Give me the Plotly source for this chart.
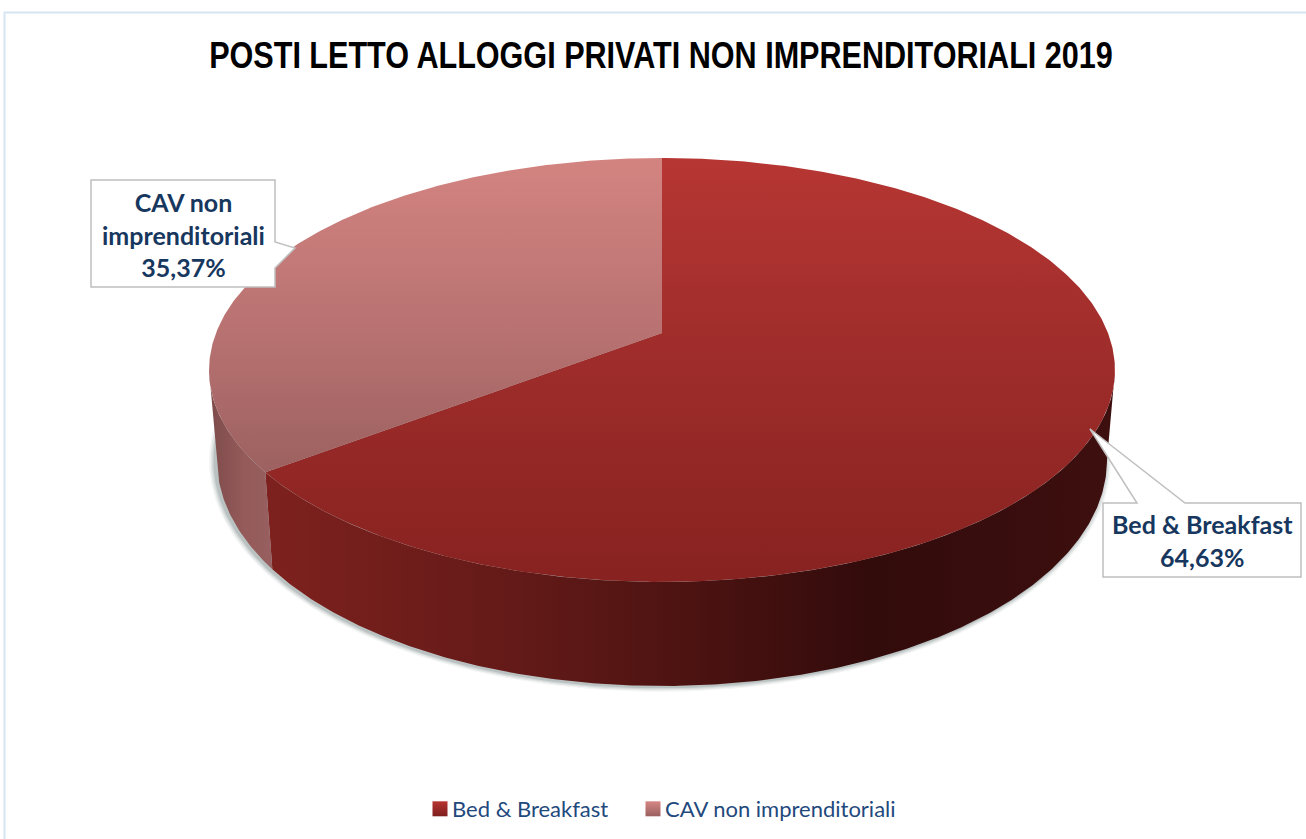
import numpy as np
import plotly.graph_objects as go

CATEGORIES = ["Bed & Breakfast", "CAV non imprenditoriali"]
VALUES = [64.63, 35.37]
LABELS = ["Bed & Breakfast<br>64,63%", "CAV non<br>imprenditoriali<br>35,37%"]
TITLE = "POSTI LETTO ALLOGGI PRIVATI NON IMPRENDITORIALI 2019"

W, H = 1306, 839
CX, APEX_Y = 662.0, 333.0
K = 0.1745
A, B = 446.0, 205.5
TOP_CY, TOP_RX, TOP_RY = 370.0, 453.0, 212.0
BOT_CY, BOT_RX, BOT_RY = 460.0, 445.0, 226.0
NAVY = "#17375E"


def rim(theta_deg):
    t = np.radians(theta_deg)
    u, v = np.sin(t), np.cos(t)
    w = 1 + K * v
    return CX + A * u / w, APEX_Y - B * v / w


def arc(a, b):
    return np.linspace(a, b, max(int(abs(b - a) * 2), 3))


total = sum(VALUES)
split = 360 * VALUES[0] / total
sx, sy = rim(split)
split_phi = np.degrees(np.arctan2((sx - CX) / TOP_RX, -(sy - TOP_CY) / TOP_RY)) % 360

fig = go.Figure()

# soft shadow under the drum
phi_all = np.radians(np.linspace(0, 360, 361))
for grow, alpha in [(6, 0.07), (4.5, 0.10), (3, 0.14), (1.5, 0.20)]:
    fig.add_trace(go.Scatter(
        x=CX - 2 + (BOT_RX + grow) * np.sin(phi_all),
        y=BOT_CY + 1 - (BOT_RY + grow * 0.8) * np.cos(phi_all),
        mode="lines", fill="toself", line=dict(width=0),
        fillcolor=f"rgba(95,110,110,{alpha})", showlegend=False, hoverinfo="skip"))


def side(a, b, stops, x0, x1):
    ph = np.radians(arc(a, b))
    tx, ty = CX + TOP_RX * np.sin(ph), TOP_CY - TOP_RY * np.cos(ph)
    bx, by = CX + BOT_RX * np.sin(ph[::-1]), BOT_CY - BOT_RY * np.cos(ph[::-1])
    fig.add_trace(go.Scatter(
        x=np.r_[tx, bx], y=np.r_[ty, by], mode="lines", fill="toself", line=dict(width=0),
        fillgradient=dict(type="horizontal", colorscale=stops, start=x0, stop=x1),
        showlegend=False, hoverinfo="skip"))


def top(a, b, stops, y0, y1, name):
    th = arc(a, b)
    tx, ty = rim(th)
    fig.add_trace(go.Scatter(
        x=np.r_[CX, tx, CX], y=np.r_[APEX_Y, ty, APEX_Y], mode="lines", fill="toself", line=dict(width=0),
        fillgradient=dict(type="vertical", colorscale=stops, start=y0, stop=y1),
        showlegend=False, hoverinfo="skip", name=name))


BED_SIDE = [[0, "#7E211E"], [0.3, "#631A18"], [0.5, "#4C1311"], [0.72, "#320B0B"], [1, "#3E0F0F"]]
CAV_SIDE = [[0, "#7F4C4C"], [0.5, "#955A5A"], [1, "#976060"]]
BED_TOP = [[0, "#B63633"], [0.5, "#9D2C2A"], [1, "#872220"]]
CAV_TOP = [[0, "#D38481"], [0.55, "#B87271"], [1, "#9C6160"]]

side(90, split_phi, BED_SIDE, 265, 1110)
side(split_phi, 270, CAV_SIDE, 212, 276)
top(0, split, BED_TOP, 158, 582, CATEGORIES[0])
top(split, 360, CAV_TOP, 158, 472, CATEGORIES[1])

# legend entries
for name, c1, c2 in [(CATEGORIES[0], "#B73533", "#7E1F1D"), (CATEGORIES[1], "#D58784", "#9A605F")]:
    fig.add_trace(go.Scatter(x=[None], y=[None], mode="markers", name=name,
                             marker=dict(symbol="square", size=15, color=c1,
                                         gradient=dict(type="vertical", color=c2), line=dict(width=0))))


def callout(path):
    return dict(type="path", path=path, xref="x", yref="y", layer="above",
                fillcolor="white", line=dict(color="#BFBFBF", width=1.5))


shapes = [
    dict(type="rect", xref="x", yref="y", x0=4.5, y0=12.5, x1=1330, y1=870, layer="below",
         line=dict(color="#D6E4F4", width=2), fillcolor="white"),
    callout("M91,180 L275,180 L275,242 L295,248 L275,268 L275,287 L91,287 Z"),
    callout("M1103,503 L1137,503 L1090,429 L1185,503 L1301,503 L1301,577 L1103,577 Z"),
]

LABEL_FONT = dict(family="Lato", size=25, color=NAVY, weight="bold")
annotations = [
    dict(x=183, y=234.5, text=LABELS[1], xref="x", yref="y", showarrow=False, align="center", font=LABEL_FONT),
    dict(x=1202, y=540, text=LABELS[0], xref="x", yref="y", showarrow=False, align="center", font=LABEL_FONT),
]

fig.update_layout(
    width=W, height=H, autosize=False,
    margin=dict(l=0, r=0, t=0, b=0),
    paper_bgcolor="white", plot_bgcolor="white",
    xaxis=dict(range=[0, W], visible=False, fixedrange=True),
    yaxis=dict(range=[H, 0], visible=False, fixedrange=True),
    title=dict(text=TITLE, x=661 / W, y=1 - 55.5 / H, xanchor="center", yanchor="middle",
               font=dict(family="Liberation Sans", size=36, color="black", weight="bold")),
    legend=dict(orientation="h", x=412 / W, y=1 - 809 / H, xanchor="left", yanchor="middle",
                bgcolor="rgba(0,0,0,0)", font=dict(family="Lato", size=22, color="#1F497D"),
                itemwidth=30),
    shapes=shapes, annotations=annotations,
)

POST = """
document.body.style.margin = '0';
document.body.style.overflow = 'hidden';
var t = document.querySelector('.gtitle');
if (t) {
  var bb = t.getBBox();
  var s = 904 / bb.width;
  var c = bb.x + bb.width / 2;
  t.setAttribute('transform', 'translate(' + (661 - s * c) + ',0) scale(' + s + ',1)');
}
document.querySelectorAll('.legendpoints').forEach(function (g) {
  g.setAttribute('transform', 'translate(8,0)');
});
var sb = document.querySelector('.legend .scrollbox');
if (sb) { sb.removeAttribute('clip-path'); }
var lt = document.querySelectorAll('.legend .traces');
if (lt.length > 1) {
  var a = lt[0].querySelector('.legendtext').getBoundingClientRect().left;
  var b = lt[1].querySelector('.legendtext').getBoundingClientRect().left;
  lt[1].setAttribute('transform', lt[1].getAttribute('transform') + ' translate(' + (213 - (b - a)) + ',0)');
}
"""
fig.write_html("out.html", config=dict(displayModeBar=False), post_script=POST)
